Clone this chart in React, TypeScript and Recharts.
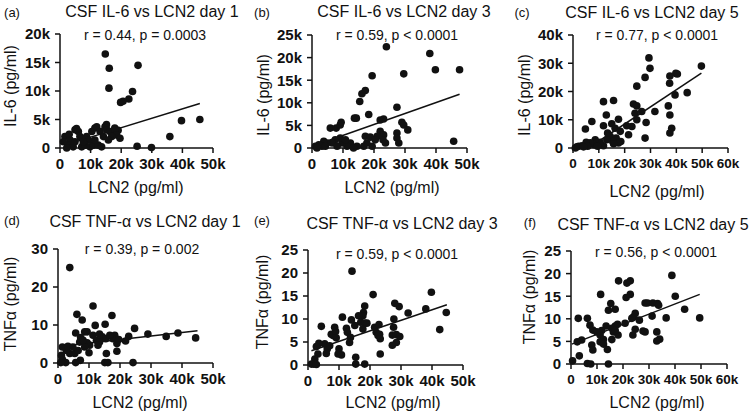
import React from "react";
import { ScatterChart, Scatter, XAxis, YAxis, ReferenceLine } from "recharts";

type Pt = [number, number];

// LCN2 in thousands of pg/ml, IL-6 in thousands of pg/ml, TNFa in pg/ml
const il6Day1: Pt[] = [
  [14.8, 16.5], [16.1, 14.0], [16.0, 10.5], [25.5, 14.5], [23.7, 9.9], [22.5, 8.6],
  [19.8, 8.0], [20.6, 8.2], [45.7, 5.0], [39.7, 4.8], [35.9, 2.0], [29.9, 0.1],
  [25.2, 0.3], [15.2, 4.1], [17.9, 3.5], [19.0, 3.1], [1.6, 2.0], [3.3, 1.4],
  [4.9, 3.2], [6.0, 2.9], [6.5, 2.0], [8.7, 2.0], [9.3, 1.4], [10.4, 2.9],
  [11.4, 3.5], [12.0, 3.7], [13.1, 2.9], [14.7, 3.7], [15.3, 3.2], [16.3, 2.9],
  [18.0, 3.2], [18.5, 2.3], [19.6, 1.7], [2.7, 0.5], [4.3, 0.2], [7.1, 0.2],
  [8.2, 0.5], [9.8, 0.2], [10.9, 0.5], [12.5, 0.5], [13.6, 0.2], [1.1, 1.1],
  [2.2, 0.0], [4.9, 1.1], [7.6, 1.1], [11.4, 1.4], [14.2, 2.0], [16.9, 2.0],
  [15.8, 1.4], [5.4, 3.4], [3.0, 2.4],
];
const il6Day3: Pt[] = [
  [24.0, 22.4], [38.0, 20.9], [39.8, 17.3], [47.6, 17.3], [29.6, 16.4], [19.4, 16.0],
  [17.2, 12.7], [16.1, 12.0], [15.4, 10.3], [27.4, 9.0], [18.3, 7.4], [13.7, 6.6],
  [14.3, 6.6], [5.9, 4.4], [7.8, 4.4], [9.1, 5.1], [9.4, 5.7], [22.0, 6.2],
  [23.1, 6.4], [29.0, 5.7], [29.6, 5.1], [30.9, 4.0], [22.0, 3.7], [23.1, 2.9],
  [22.9, 1.8], [23.7, 1.1], [27.4, 3.3], [27.4, 2.2], [28.0, 1.1], [45.7, 1.5],
  [17.2, 2.6], [18.8, 2.4], [21.0, 2.6], [17.7, 1.1], [16.7, 0.4], [14.5, 0.4],
  [12.4, 1.1], [11.3, 0.4], [9.7, 1.1], [9.1, 2.2], [10.8, 1.8], [7.5, 1.8],
  [6.5, 1.1], [4.8, 1.1], [3.8, 1.5], [3.2, 0.4], [2.2, 0.7], [1.1, 0.4],
  [1.6, 0.0], [4.3, 0.4], [8.1, 0.4], [13.4, 0.0], [19.4, 0.4], [20.4, 1.8],
];
const il6Day5: Pt[] = [
  [29.4, 31.9], [29.8, 28.2], [37.5, 25.5], [39.8, 26.4], [40.4, 26.2], [49.7, 29.0],
  [27.9, 25.0], [24.7, 21.9], [37.4, 22.9], [44.2, 19.6], [39.5, 18.8], [36.9, 14.9],
  [31.7, 12.9], [37.5, 11.7], [37.5, 5.3], [38.2, 7.0], [23.4, 15.6], [24.7, 14.9],
  [24.0, 12.3], [26.6, 12.9], [24.7, 10.0], [28.3, 9.0], [27.9, 3.5], [22.8, 7.6],
  [21.5, 4.7], [20.8, 7.9], [11.8, 16.4], [15.7, 16.8], [12.9, 11.7], [17.6, 10.2],
  [15.0, 8.6], [11.8, 7.9], [7.3, 9.4], [4.8, 6.7], [13.4, 5.3], [16.3, 7.0],
  [14.4, 4.1], [16.7, 3.5], [18.3, 5.9], [18.5, 2.3], [17.6, 1.8], [15.4, 2.3],
  [13.1, 2.9], [11.8, 0.8], [10.5, 2.0], [8.6, 2.9], [8.0, 1.2], [6.7, 1.8],
  [5.1, 2.0], [5.7, 0.6], [3.5, 0.8], [2.2, 0.6], [0.9, 0.0], [1.5, 0.4],
  [4.1, 0.4], [9.5, 0.6], [15.7, 1.5],
];
const tnfDay1: Pt[] = [
  [3.8, 25.1], [11.3, 15.0], [6.1, 12.8], [17.4, 12.5], [7.8, 11.3], [12.0, 9.9],
  [15.2, 10.2], [24.7, 9.1], [5.7, 7.9], [8.6, 8.2], [9.4, 8.2], [7.3, 6.7],
  [29.0, 7.6], [34.9, 7.0], [38.7, 7.9], [44.4, 6.6], [22.8, 7.0], [21.8, 5.8],
  [18.3, 7.3], [17.7, 6.4], [19.0, 5.1], [19.0, 3.1], [15.6, 2.5], [15.1, 0.1],
  [16.1, 0.1], [24.2, 0.1], [7.2, 0.7], [5.7, 0.1], [2.5, 0.1], [1.4, 1.0],
  [0.9, 0.1], [3.8, 2.5], [5.4, 2.5], [2.7, 3.3], [1.4, 4.2], [3.2, 4.4],
  [6.5, 3.3], [7.0, 5.5], [10.0, 2.7], [10.2, 4.7], [11.3, 7.3], [12.4, 6.0],
  [13.4, 7.6], [14.3, 6.9], [15.4, 6.4], [16.7, 7.3], [13.4, 5.5], [12.9, 4.7],
  [9.4, 5.3], [8.6, 4.2], [4.8, 4.2], [19.6, 6.2], [8.1, 6.0], [1.1, 2.0],
];
const tnfDay3: Pt[] = [
  [14.2, 20.4], [21.0, 15.3], [39.8, 15.8], [38.0, 12.2], [44.6, 11.4], [42.5, 7.7],
  [29.4, 12.7], [28.0, 13.4], [32.3, 11.3], [27.7, 10.0], [27.6, 8.2], [27.2, 6.5],
  [28.5, 6.6], [29.6, 6.2], [28.5, 4.9], [27.2, 4.3], [18.3, 12.8], [17.9, 11.4],
  [17.7, 10.7], [16.3, 10.7], [17.0, 9.3], [18.3, 9.1], [19.0, 9.1], [17.7, 7.8],
  [15.1, 8.6], [14.0, 9.8], [11.1, 10.4], [12.4, 8.0], [12.7, 7.1], [13.7, 6.0],
  [13.4, 4.9], [21.5, 8.2], [22.0, 7.1], [22.6, 6.4], [23.1, 6.7], [22.9, 8.8],
  [23.3, 5.7], [23.3, 2.4], [8.1, 6.4], [7.5, 6.7], [8.9, 7.3], [9.1, 5.9],
  [8.6, 8.2], [10.0, 3.5], [9.7, 2.4], [10.8, 2.2], [5.9, 2.5], [6.2, 3.5],
  [5.4, 4.6], [4.3, 8.4], [3.5, 4.7], [2.7, 4.0], [3.2, 2.4], [2.2, 1.3],
  [1.8, 0.2], [1.1, 0.2], [2.7, 0.1], [15.4, 1.7], [15.4, 0.2], [18.3, 0.2],
  [7.0, 4.2],
];
const tnfDay5: Pt[] = [
  [38.8, 19.6], [40.1, 15.0], [43.7, 12.1], [49.5, 10.2], [36.6, 10.2], [18.3, 18.4],
  [21.5, 17.9], [22.8, 18.4], [22.8, 15.4], [21.2, 14.7], [11.4, 15.4], [15.3, 13.4],
  [17.0, 12.1], [14.4, 11.9], [28.5, 13.5], [29.4, 13.5], [31.5, 13.5], [33.3, 13.4],
  [33.7, 13.0], [31.2, 10.6], [24.7, 11.2], [24.0, 10.4], [23.4, 10.1], [26.3, 9.7],
  [20.8, 9.0], [17.9, 8.8], [17.0, 8.4], [15.7, 7.9], [13.5, 8.4], [11.8, 7.4],
  [11.2, 6.4], [16.3, 7.1], [18.1, 6.4], [17.0, 7.4], [24.7, 7.7], [23.8, 6.4],
  [27.7, 7.3], [28.5, 7.1], [33.0, 7.1], [34.1, 5.5], [33.0, 5.1], [12.5, 5.4],
  [11.2, 4.9], [12.5, 4.4], [14.0, 3.2], [15.7, 5.4], [2.8, 10.1], [6.3, 10.1],
  [7.3, 8.6], [8.4, 7.5], [8.0, 4.2], [8.4, 3.1], [4.1, 5.3], [2.4, 4.9],
  [3.2, 1.8], [0.6, 0.7], [6.3, 0.1], [7.6, 0.0], [14.4, 0.0], [9.9, 7.1],
];

// regression line end points
const fitIl6Day1: Pt[] = [[1.5, 0.5], [45.7, 7.8]];
const fitIl6Day3: Pt[] = [[1.0, 0.6], [47.6, 11.9]];
const fitIl6Day5: Pt[] = [[6.0, 0.0], [49.7, 26.5]];
const fitTnfDay1: Pt[] = [[0.8, 4.4], [45.0, 8.5]];
const fitTnfDay3: Pt[] = [[1.1, 3.1], [44.8, 13.1]];
const fitTnfDay5: Pt[] = [[0.3, 4.4], [49.5, 15.4]];

const ticks50 = [0, 10, 20, 30, 40, 50];
const ticks60 = [0, 10, 20, 30, 40, 50, 60];

const FONT = "'Liberation Sans', Arial, sans-serif";
const INK = "#111";

type XY = [number, number];
interface PanelCfg {
  tag: string;
  title: string;
  stat: string;
  yLabel: string;
  data: Pt[];
  fit: Pt[];
  xTicks: number[];
  yTicks: number[];
  yK: boolean;
  box: [number, number, number, number]; // left, right, bottom, top
  tagAt: XY;
  titleAt: XY;
  statAt: XY;
  yLabelAt: XY;
  xLabelAt: XY;
}

const panels: PanelCfg[] = [
  {
    tag: "(a)", title: "CSF IL-6 vs LCN2 day 1", stat: "r = 0.44, p = 0.0003", yLabel: "IL-6 (pg/ml)",
    data: il6Day1, fit: fitIl6Day1, xTicks: ticks50, yTicks: [0, 5, 10, 15, 20], yK: true,
    box: [60, 213, 148, 34], tagAt: [12, 12], titleAt: [152, 12], statAt: [145, 35], yLabelAt: [11, 86], xLabelAt: [136, 188],
  },
  {
    tag: "(b)", title: "CSF IL-6 vs LCN2 day 3", stat: "r = 0.59, p < 0.0001", yLabel: "IL-6 (pg/ml)",
    data: il6Day3, fit: fitIl6Day3, xTicks: ticks50, yTicks: [0, 5, 10, 15, 20, 25], yK: true,
    box: [312, 467, 148, 35], tagAt: [262, 12], titleAt: [404, 12], statAt: [397, 35], yLabelAt: [264, 95], xLabelAt: [392, 188],
  },
  {
    tag: "(c)", title: "CSF IL-6 vs LCN2 day 5", stat: "r = 0.77, p < 0.0001", yLabel: "IL-6 (pg/ml)",
    data: il6Day5, fit: fitIl6Day5, xTicks: ticks60, yTicks: [0, 10, 20, 30, 40], yK: true,
    box: [573, 728, 148, 35], tagAt: [522, 12], titleAt: [652, 13], statAt: [657, 35], yLabelAt: [525, 95], xLabelAt: [657, 192],
  },
  {
    tag: "(d)", title: "CSF TNF-\u03b1 vs LCN2 day 1", stat: "r = 0.39, p = 0.002", yLabel: "TNF\u03b1 (pg/ml)",
    data: tnfDay1, fit: fitTnfDay1, xTicks: ticks50, yTicks: [0, 10, 20, 30], yK: false,
    box: [58, 213, 363, 249], tagAt: [12, 220], titleAt: [145, 222], statAt: [142, 249], yLabelAt: [11, 304], xLabelAt: [140, 403],
  },
  {
    tag: "(e)", title: "CSF TNF-\u03b1 vs LCN2 day 3", stat: "r = 0.59, p < 0.0001", yLabel: "TNF\u03b1 (pg/ml)",
    data: tnfDay3, fit: fitTnfDay3, xTicks: ticks50, yTicks: [0, 5, 10, 15, 20, 25], yK: false,
    box: [308, 463, 365, 250], tagAt: [262, 220], titleAt: [402, 224], statAt: [397, 254], yLabelAt: [263, 302], xLabelAt: [393, 403],
  },
  {
    tag: "(f)", title: "CSF TNF-\u03b1 vs LCN2 day 5", stat: "r = 0.56, p < 0.0001", yLabel: "TNF\u03b1 (pg/ml)",
    data: tnfDay5, fit: fitTnfDay5, xTicks: ticks60, yTicks: [0, 5, 10, 15, 20, 25], yK: false,
    box: [571, 727, 364, 251], tagAt: [530, 222], titleAt: [653, 225], statAt: [656, 252], yLabelAt: [530, 297], xLabelAt: [657, 403],
  },
];

function Txt({ at, size, children, rotate }: { at: XY; size: number; children: React.ReactNode; rotate?: boolean }) {
  return (
    <div
      style={{
        position: "absolute",
        left: at[0],
        top: at[1],
        transform: `translate(-50%, -50%)${rotate ? " rotate(-90deg)" : ""}`,
        fontSize: size,
        whiteSpace: "nowrap",
        lineHeight: 1,
        color: INK,
      }}
    >
      {children}
    </div>
  );
}

const Dot = (props: any) => <circle cx={props.cx} cy={props.cy} r={3.8} fill={INK} />;

function Panel({ p }: { p: PanelCfg }) {
  const ml = 50, mt = 12, mr = 18, xh = 34;
  const [left, right, bottom, top] = p.box;
  const w = right - left;
  const h = bottom - top;
  const pts = p.data.map(([x, y]) => ({ x, y }));
  // the 0-60k axes are tighter, the labels there run a little smaller
  const xFont = p.xTicks.length > 6 ? 13.5 : 15;
  const tickStyle = { fontSize: 15, fontWeight: "bold", fill: INK, fontFamily: FONT };
  const axisStroke = { stroke: INK, strokeWidth: 1.5 };
  return (
    <>
      <div style={{ position: "absolute", left: left - ml, top: top - mt }}>
        <ScatterChart width={w + ml + mr} height={h + mt + xh} margin={{ top: mt, right: mr, left: 0, bottom: 0 }}>
          <XAxis
            type="number"
            dataKey="x"
            domain={[0, p.xTicks[p.xTicks.length - 1]]}
            ticks={p.xTicks}
            tickFormatter={(v: number) => (v === 0 ? "0" : `${v}k`)}
            height={xh}
            tick={{ ...tickStyle, fontSize: xFont }}
            axisLine={axisStroke}
            tickLine={axisStroke}
            tickSize={5}
            tickMargin={5}
            interval={0}
          />
          <YAxis
            type="number"
            dataKey="y"
            domain={[0, p.yTicks[p.yTicks.length - 1]]}
            ticks={p.yTicks}
            tickFormatter={(v: number) => (v === 0 || !p.yK ? `${v}` : `${v}k`)}
            width={ml}
            tick={tickStyle}
            axisLine={axisStroke}
            tickLine={axisStroke}
            tickSize={5}
            tickMargin={5}
            interval={0}
          />
          <ReferenceLine
            segment={p.fit.map(([x, y]) => ({ x, y }))}
            stroke={INK}
            strokeWidth={1.5}
            ifOverflow="visible"
          />
          <Scatter data={pts} shape={Dot} isAnimationActive={false} />
        </ScatterChart>
      </div>
      <Txt at={p.tagAt} size={13}>{p.tag}</Txt>
      <Txt at={p.titleAt} size={16}>{p.title}</Txt>
      <Txt at={p.statAt} size={14}>{p.stat}</Txt>
      <Txt at={p.yLabelAt} size={16} rotate>{p.yLabel}</Txt>
      <Txt at={p.xLabelAt} size={16}>LCN2 (pg/ml)</Txt>
    </>
  );
}

export default function App() {
  return (
    <div
      style={{
        position: "absolute",
        left: 0,
        top: 0,
        width: 755,
        height: 414,
        background: "#fff",
        fontFamily: FONT,
        overflow: "hidden",
      }}
    >
      {panels.map((p) => (
        <Panel key={p.tag} p={p} />
      ))}
    </div>
  );
}
